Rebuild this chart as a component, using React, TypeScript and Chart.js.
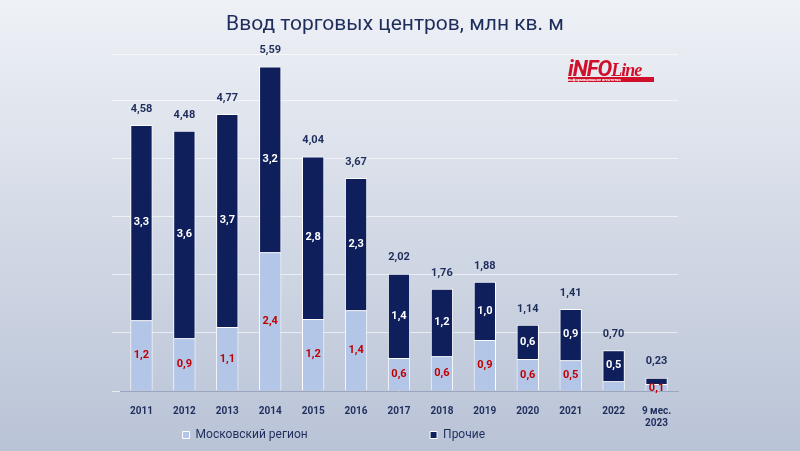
import React, { useEffect, useRef } from 'react';
import { Chart, registerables } from 'chart.js';
Chart.register(...registerables);

const years: (string | string[])[] = ['2011', '2012', '2013', '2014', '2015', '2016', '2017', '2018', '2019', '2020', '2021', '2022', ['9 мес.', '2023']];
const totals = [4.58, 4.48, 4.77, 5.59, 4.04, 3.67, 2.02, 1.76, 1.88, 1.14, 1.41, 0.70, 0.23];
const moscow = [1.22, 0.91, 1.10, 2.39, 1.24, 1.39, 0.57, 0.60, 0.88, 0.55, 0.53, 0.17, 0.12];
const moscowLabels = ['1,2', '0,9', '1,1', '2,4', '1,2', '1,4', '0,6', '0,6', '0,9', '0,6', '0,5', '', '0,1'];
const otherLabels = ['3,3', '3,6', '3,7', '3,2', '2,8', '2,3', '1,4', '1,2', '1,0', '0,6', '0,9', '0,5', ''];
const others = totals.map((t, i) => +(t - moscow[i]).toFixed(2));

const fmt = (v: number) => v.toFixed(2).replace('.', ',');

const labelPlugin = {
  id: 'labels',
  afterDatasetsDraw(chart: Chart) {
    const ctx = chart.ctx;
    const m = chart.getDatasetMeta(0).data;
    const o = chart.getDatasetMeta(1).data;
    ctx.save();
    ctx.textAlign = 'center';
    ctx.textBaseline = 'middle';
    ctx.font = 'bold 11px Roboto';
    m.forEach((el: any, i) => {
      if (moscowLabels[i]) {
        ctx.fillStyle = '#c00000';
        const y = i === 12 ? el.y + 4 : (el.y + el.base) / 2;
        ctx.fillText(moscowLabels[i], el.x, y);
      }
      const oe: any = o[i];
      if (otherLabels[i]) {
        ctx.fillStyle = '#ffffff';
        ctx.fillText(otherLabels[i], oe.x, (oe.y + oe.base) / 2);
      }
      ctx.fillStyle = '#1f2d5c';
      ctx.fillText(fmt(totals[i]), oe.x, oe.y - 16);
    });
    ctx.restore();
  },
};

const App: React.FC = () => {
  const ref = useRef<HTMLCanvasElement>(null);
  useEffect(() => {
    if (!ref.current) return;
    const chart = new Chart(ref.current, {
      type: 'bar',
      data: {
        labels: years,
        datasets: [
          { label: 'Московский регион', data: moscow, backgroundColor: '#b4c6e7', borderColor: '#ffffff', borderWidth: 1, barPercentage: 0.52, categoryPercentage: 1 },
          { label: 'Прочие', data: others, backgroundColor: '#0e1f5b', borderColor: '#ffffff', borderWidth: 1, barPercentage: 0.52, categoryPercentage: 1 },
        ],
      },
      options: {
        animation: false,
        responsive: false,
        layout: { padding: { left: 112, right: 122, top: 4, bottom: 0 } },
        plugins: {
          title: { display: true, text: 'Ввод торговых центров, млн кв. м', color: '#1f2d5c', font: { family: 'Roboto', size: 21, weight: 'normal' }, padding: { top: 8, bottom: 17 } },
          legend: {
            position: 'bottom',
            labels: { boxWidth: 7, boxHeight: 7, color: '#1f2d5c', font: { family: 'Roboto', size: 12 }, padding: 0, generateLabels: (c: Chart) => Chart.defaults.plugins.legend.labels.generateLabels(c).map((l: any) => ({ ...l, text: l.text + '\u2003'.repeat(10) })) },
          },
          tooltip: { enabled: false },
        },
        scales: {
          x: { stacked: true, afterFit: (s: any) => { s.height = 38; }, grid: { display: false }, border: { color: '#9aa6bf' }, ticks: { color: '#1f2d5c', padding: 6, font: { family: 'Roboto', size: 10, weight: 'bold' } } },
          y: { stacked: true, min: 0, max: 5.8, ticks: { display: false, stepSize: 1 }, border: { display: false }, grid: { color: 'rgba(255,255,255,0.6)' } },
        },
      },
      plugins: [labelPlugin],
    });
    return () => chart.destroy();
  }, []);
  return (
    <div style={{ position: 'fixed', left: 0, top: 0, width: 800, height: 451, background: 'linear-gradient(#eef1f6, #b9c3d6)', fontFamily: 'Roboto' }}>
      <canvas ref={ref} width={800} height={451} style={{ display: 'block' }} />
      <div style={{ position: 'absolute', left: 568, top: 56, fontWeight: 'bold', fontStyle: 'italic', fontSize: 22, color: '#d0102a', letterSpacing: -1 }}>
        iNFO<span style={{ fontFamily: 'serif', fontSize: 18 }}>Line</span>
        <div style={{ fontSize: 4, background: '#d0102a', color: '#fff', fontStyle: 'normal', letterSpacing: 0, width: 86, marginTop: -4 }}>информационное агентство</div>
      </div>
    </div>
  );
};

export default App;
